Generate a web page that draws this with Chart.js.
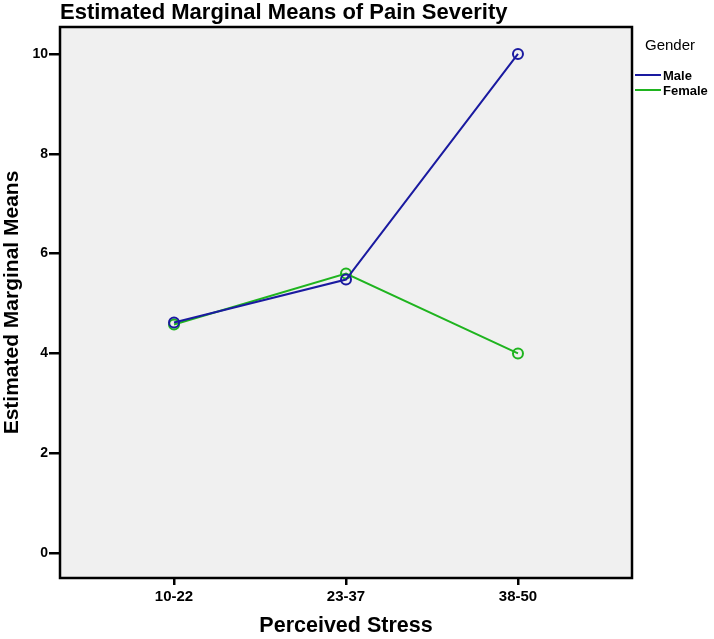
<!DOCTYPE html>
<html>
<head>
<meta charset="utf-8">
<script src="https://cdn.jsdelivr.net/npm/chart.js@4.4.1/dist/chart.umd.min.js"></script>
<style>
  html, body { margin: 0; padding: 0; background: #fff; }
  #wrap { width: 714px; height: 639px; }
</style>
</head>
<body>
<div id="wrap"><canvas id="chart"></canvas></div>
<script>
// categories and series values
const categories = ['10-22', '23-37', '38-50'];
const maleMeans = [4.62, 5.48, 10.0];
const femaleMeans = [4.58, 5.60, 4.0];
const yTicks = [0, 2, 4, 6, 8, 10];
const seriesNames = ['Male', 'Female'];
const seriesColors = ['#1a1aa0', '#1fb41f'];

const FONT = '"Liberation Sans", Arial, sans-serif';

function toPoints(vals) {
  return vals.map((v, i) => ({ x: i, y: v }));
}

// grey plot background, full border, title and legend
const frame = {
  id: 'frame',
  beforeDraw(chart) {
    const a = chart.chartArea, ctx = chart.ctx;
    ctx.save();
    ctx.fillStyle = '#f0f0f0';
    ctx.fillRect(a.left, a.top, a.right - a.left, a.bottom - a.top);
    ctx.restore();
  },
  afterDraw(chart) {
    const a = chart.chartArea, ctx = chart.ctx;
    ctx.save();
    ctx.strokeStyle = '#000';
    ctx.lineWidth = 2.5;
    ctx.strokeRect(a.left, a.top, a.right - a.left, a.bottom - a.top);

    ctx.fillStyle = '#000';
    ctx.textBaseline = 'alphabetic';
    ctx.textAlign = 'left';
    ctx.font = 'bold 22px ' + FONT;
    ctx.fillText('Estimated Marginal Means of Pain Severity', 60, 19);

    ctx.font = '15px ' + FONT;
    ctx.textBaseline = 'middle';
    ctx.fillText('Gender', 645, 46);

    ctx.font = 'bold 13px ' + FONT;
    seriesNames.forEach((name, i) => {
      const y = 75 + i * 15;
      ctx.strokeStyle = seriesColors[i];
      ctx.lineWidth = 2;
      ctx.beginPath();
      ctx.moveTo(635, y);
      ctx.lineTo(661, y);
      ctx.stroke();
      ctx.fillStyle = '#000';
      ctx.fillText(name, 663, y + 1);
    });
    ctx.restore();
  }
};

const ctx = document.getElementById('chart');
new Chart(ctx, {
  type: 'line',
  data: {
    datasets: [
      {
        label: seriesNames[0],
        data: toPoints(maleMeans),
        borderColor: seriesColors[0],
        backgroundColor: 'rgba(0,0,0,0)',
        borderWidth: 2,
        pointRadius: 5,
        pointBorderWidth: 2,
        pointBackgroundColor: 'rgba(0,0,0,0)',
        pointBorderColor: seriesColors[0]
      },
      {
        label: seriesNames[1],
        data: toPoints(femaleMeans),
        borderColor: seriesColors[1],
        backgroundColor: 'rgba(0,0,0,0)',
        borderWidth: 2,
        pointRadius: 5,
        pointBorderWidth: 2,
        pointBackgroundColor: 'rgba(0,0,0,0)',
        pointBorderColor: seriesColors[1]
      }
    ]
  },
  options: {
    responsive: true,
    maintainAspectRatio: false,
    animation: false,
    layout: { padding: { top: 27, right: 82, left: 0, bottom: 0 } },
    plugins: {
      legend: { display: false },
      title: { display: false },
      tooltip: { enabled: false }
    },
    scales: {
      x: {
        type: 'linear',
        min: -0.663,
        max: 2.663,
        afterBuildTicks(scale) {
          scale.ticks = categories.map((c, i) => ({ value: i }));
        },
        afterFit(scale) { scale.height = 61; },
        grid: {
          display: true,
          drawOnChartArea: false,
          drawTicks: true,
          tickLength: 7,
          color: '#000',
          lineWidth: 2.5
        },
        border: { display: false },
        ticks: {
          color: '#000',
          font: { family: FONT, size: 15, weight: 'bold' },
          padding: 3,
          maxRotation: 0,
          callback: (v) => categories[v]
        },
        title: {
          display: true,
          text: 'Perceived Stress',
          color: '#000',
          font: { family: FONT, size: 21.5, weight: 'bold' },
          padding: { top: 13, bottom: 0 }
        }
      },
      y: {
        min: -0.5,
        max: 10.54,
        afterBuildTicks(scale) {
          scale.ticks = yTicks.map(v => ({ value: v }));
        },
        afterFit(scale) { scale.width = 60; },
        grid: {
          display: true,
          drawOnChartArea: false,
          drawTicks: true,
          tickLength: 11,
          color: '#000',
          lineWidth: 2.5
        },
        border: { display: false },
        ticks: {
          color: '#000',
          font: { family: FONT, size: 14, weight: 'bold' },
          padding: 1
        },
        title: {
          display: true,
          text: 'Estimated Marginal Means',
          color: '#000',
          font: { family: FONT, size: 21, weight: 'bold' },
          padding: { top: 0, bottom: 0 }
        }
      }
    }
  },
  plugins: [frame]
});
</script>
</body>
</html>
